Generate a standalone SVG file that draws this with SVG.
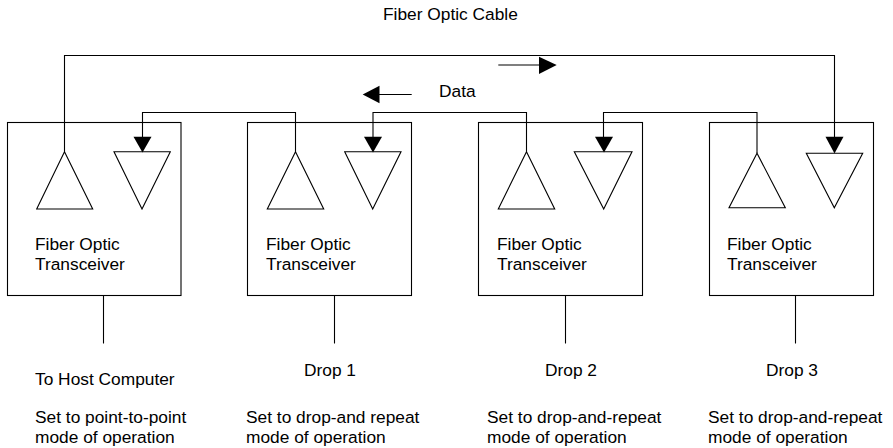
<svg xmlns="http://www.w3.org/2000/svg" width="893" height="448" viewBox="0 0 893 448">
<style>
.s{fill:none;stroke:#000;stroke-width:1.1}
.a{fill:#000;stroke:none}
text{font-family:"Liberation Sans",Arial,sans-serif;font-size:17.33px;fill:#000}
</style>
<rect width="893" height="448" fill="#fff"/>
<text x="383" y="20">Fiber Optic Cable</text>
<text x="439" y="97">Data</text>
<g id="node1"><rect class="s" x="7.500" y="122.500" width="173.500" height="173"/><path class="s" d="M64.500 151.700L36.700 209H92.700Z"/><path class="s" d="M114 151.700H170.300L142 209Z"/><text x="35" y="250">Fiber Optic</text><text x="35" y="270">Transceiver</text><path class="s" d="M103.500 295.500V343.500"/><text x="35" y="385">To Host Computer</text><text x="35" y="423">Set to point-to-point</text><text x="35" y="443">mode of operation</text></g>
<g id="node2"><rect class="s" x="247.500" y="122.500" width="164" height="173"/><path class="s" d="M295.500 151.700L267.300 209H323.700Z"/><path class="s" d="M344.700 151.700H401L372.700 209Z"/><text x="266" y="250">Fiber Optic</text><text x="266" y="270">Transceiver</text><path class="s" d="M334.500 295.500V343.500"/><text x="304" y="376">Drop 1</text><text x="246" y="423">Set to drop-and repeat</text><text x="246" y="443">mode of operation</text></g>
<g id="node3"><rect class="s" x="478.500" y="122.500" width="164" height="173"/><path class="s" d="M526.500 151.700L498.300 209H554.700Z"/><path class="s" d="M574.300 151.700H632L603.700 209Z"/><text x="497" y="250">Fiber Optic</text><text x="497" y="270">Transceiver</text><path class="s" d="M565.500 295.500V343.500"/><text x="545" y="376">Drop 2</text><text x="487" y="423">Set to drop-and-repeat</text><text x="487" y="443">mode of operation</text></g>
<g id="node4"><rect class="s" x="709.500" y="122.500" width="164" height="173"/><path class="s" d="M757 153.300L729 207.700H785.300Z"/><path class="s" d="M806.300 153.300H862.700L834.300 207.700Z"/><text x="727" y="250">Fiber Optic</text><text x="727" y="270">Transceiver</text><path class="s" d="M795.500 295.500V343.500"/><text x="766" y="376">Drop 3</text><text x="708" y="423">Set to drop-and-repeat</text><text x="708" y="443">mode of operation</text></g>
<g id="connectors">
<path class="s" d="M64.500 151.700V55.500H834.500V140"/><path class="a" d="M825.500 136.700H843.500L834.500 153.500Z"/>
<path class="s" d="M295.500 151.700V112.500H142.500V140"/><path class="a" d="M133.500 136.700H151.500L142.500 152.500Z"/>
<path class="s" d="M526.500 151.700V112.500H373V140"/><path class="a" d="M364 136.700H382L373 152.500Z"/>
<path class="s" d="M757 153.300V112.500H603.500V140"/><path class="a" d="M595 136.700H613L604 152.500Z"/>
<path class="s" d="M411.700 94.500H376"/><path class="a" d="M362.700 94.500L379.500 85.700V103.300Z"/>
<path class="s" d="M498.300 65H541"/><path class="a" d="M556.700 65L539 56.700V74Z"/>
</g>
</svg>
